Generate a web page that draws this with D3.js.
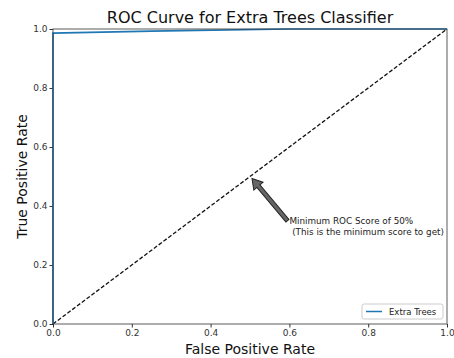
<!DOCTYPE html>
<html lang="en">
<head>
    <meta charset="utf-8">
    <title>ROC Curve</title>
    <style>
        body { margin: 0; background: #fff; }
        text { font-family: "DejaVu Sans", sans-serif; }
    </style>
</head>
<body>
    <svg id="chart"></svg>
    <script src="https://cdn.jsdelivr.net/npm/d3@7"></script>
    <script>
        // ROC points
        var fpr = [0, 0, 0.25, 0.6, 1];
        var tpr = [0, 0.986, 0.993, 1, 1];
        var chance = [0, 1];
        var ticks = [0, 0.2, 0.4, 0.6, 0.8, 1.0];

        var w = 454, h = 358;
        var mLeft = 53, mRight = 447, mTop = 29, mBottom = 324;

        var svg = d3.select("#chart").attr("width", w).attr("height", h);

        var x = d3.scaleLinear().domain([0, 1]).range([mLeft, mRight]);
        var y = d3.scaleLinear().domain([0, 1]).range([mBottom, mTop]);

        // axes
        svg.append("g")
            .attr("transform", "translate(0," + mBottom + ")")
            .call(d3.axisBottom(x).tickValues(ticks).tickFormat(d3.format(".1f")).tickSize(3.5).tickPadding(2))
            .call(function(g) { g.select(".domain").remove(); })
            .selectAll("text").attr("font-size", "9px").attr("fill", "#333");
        svg.append("g")
            .attr("transform", "translate(" + mLeft + ",0)")
            .call(d3.axisLeft(y).tickValues(ticks).tickFormat(d3.format(".1f")).tickSize(3.5).tickPadding(2))
            .call(function(g) { g.select(".domain").remove(); })
            .selectAll("text").attr("font-size", "9px").attr("fill", "#333");
        svg.selectAll(".tick line").attr("stroke", "#333");

        // chance line
        svg.append("line")
            .attr("x1", x(chance[0])).attr("y1", y(chance[0]))
            .attr("x2", x(chance[1])).attr("y2", y(chance[1]))
            .attr("stroke", "#111").attr("stroke-width", 1.3)
            .attr("stroke-dasharray", "4,2");

        // roc curve
        var line = d3.line()
            .x(function(d, i) { return x(fpr[i]); })
            .y(function(d, i) { return y(tpr[i]); });
        svg.append("path")
            .datum(fpr)
            .attr("d", line)
            .attr("fill", "none")
            .attr("stroke", "#1f77b4")
            .attr("stroke-width", 1.7);

        // frame
        svg.append("rect")
            .attr("x", mLeft).attr("y", mTop)
            .attr("width", mRight - mLeft).attr("height", mBottom - mTop)
            .attr("fill", "none").attr("stroke", "#333").attr("stroke-width", 0.8);

        // annotation arrow
        var tip = [x(0.5) + 2, y(0.5) + 2];
        var tail = [x(0.595), y(0.35)];
        var ang = Math.atan2(tail[1] - tip[1], tail[0] - tip[0]);
        var len = Math.hypot(tail[0] - tip[0], tail[1] - tip[1]);
        var arrow = svg.append("g")
            .attr("transform", "translate(" + tip[0] + "," + tip[1] + ") rotate(" + ang * 180 / Math.PI + ")");
        arrow.append("path")
            .attr("d", "M0,0 L10,-6 L10,-2 L" + len + ",-2 L" + len + ",2 L10,2 L10,6 Z")
            .attr("fill", "#666").attr("stroke", "#222").attr("stroke-width", 1);

        var note = svg.append("text")
            .attr("x", x(0.6)).attr("y", y(0.34))
            .attr("font-size", "8.8px").attr("fill", "#222");
        note.append("tspan").attr("x", x(0.6)).text("Minimum ROC Score of 50%");
        note.append("tspan").attr("x", x(0.6)).attr("dy", 11).attr("xml:space", "preserve").text(" (This is the minimum score to get)");

        // legend
        var lg = svg.append("g").attr("transform", "translate(362,304)");
        lg.append("rect").attr("width", 81).attr("height", 15).attr("rx", 2)
            .attr("fill", "#fff").attr("stroke", "#ccc");
        lg.append("line").attr("x1", 4).attr("x2", 20).attr("y1", 7.5).attr("y2", 7.5)
            .attr("stroke", "#1f77b4").attr("stroke-width", 1.5);
        lg.append("text").attr("x", 27).attr("y", 11).attr("font-size", "8.5px").attr("fill", "#222").text("Extra Trees");

        // titles
        svg.append("text").attr("x", (mLeft + mRight) / 2).attr("y", 23)
            .attr("text-anchor", "middle").attr("font-size", "16px").attr("fill", "#111")
            .text("ROC Curve for Extra Trees Classifier");
        svg.append("text").attr("x", (mLeft + mRight) / 2).attr("y", 354)
            .attr("text-anchor", "middle").attr("font-size", "14px").attr("fill", "#111")
            .text("False Positive Rate");
        svg.append("text").attr("transform", "translate(27," + (mTop + mBottom) / 2 + ") rotate(-90)")
            .attr("text-anchor", "middle").attr("font-size", "14px").attr("fill", "#111")
            .text("True Positive Rate");
    </script>
</body>
</html>
